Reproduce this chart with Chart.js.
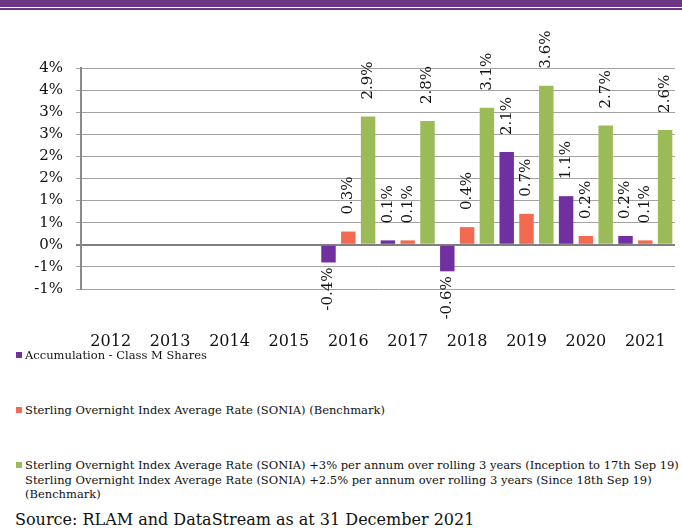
<!DOCTYPE html>
<html>
<head>
<meta charset="utf-8">
<script src="https://cdn.jsdelivr.net/npm/chart.js@4/dist/chart.umd.min.js"></script>
<style>
  body { margin: 0; background: #fff; }
  #page { position: relative; width: 682px; height: 530px; overflow: hidden; font-family: "DejaVu Serif", serif; color: #1a1a1a; }
  .band { position: absolute; left: 0; width: 682px; background: #6f3585; }
  #chart { position: absolute; left: 0; top: 0; }
  #legend { position: absolute; left: 15px; top: 0; width: 667px; font-family: "DejaVu Serif", serif; font-size: 11.5px; color: #111; }
  .item { position: absolute; left: 0; white-space: pre; line-height: 14.5px; padding-left: 10px; }
  .item i { position: absolute; left: 1px; top: 4px; width: 6px; height: 6px; }
  #source { position: absolute; left: 15px; top: 510px; font-size: 16px; white-space: nowrap; color: #111; }
</style>
</head>
<body>
<div id="page">
  <div class="band" style="top:0;height:7px"></div>
  <div class="band" style="top:8px;height:2px"></div>
  <canvas id="chart" width="682" height="360"></canvas>
  <div id="legend"></div>
  <div id="source">Source: RLAM and DataStream as at 31 December 2021</div>
</div>
<script>
const years = ['2012', '2013', '2014', '2015', '2016', '2017', '2018', '2019', '2020', '2021'];
const accumulation = [null, null, null, null, -0.4, 0.1, -0.6, 2.1, 1.1, 0.2];
const sonia = [null, null, null, null, 0.3, 0.1, 0.4, 0.7, 0.2, 0.1];
const soniaPlus = [null, null, null, null, 2.9, 2.8, 3.1, 3.6, 2.7, 2.6];
const seriesNames = [
    'Accumulation - Class M Shares',
    'Sterling Overnight Index Average Rate (SONIA) (Benchmark)',
    'Sterling Overnight Index Average Rate (SONIA) +3% per annum over rolling 3 years (Inception to 17th Sep 19)\nSterling Overnight Index Average Rate (SONIA) +2.5% per annum over rolling 3 years (Since 18th Sep 19)\n(Benchmark)'
];
const seriesColors = ['#7030a0', '#f26a4f', '#9bbb59'];
const legendTops = [348, 403, 458];

// rotated value labels above (or below) each bar
const barLabels = {
    id: 'barLabels',
    afterDatasetsDraw(chart) {
        const ctx = chart.ctx;
        ctx.save();
        ctx.font = '15px "DejaVu Serif"';
        ctx.fillStyle = '#111';
        ctx.textBaseline = 'middle';
        chart.data.datasets.forEach((ds, i) => {
            chart.getDatasetMeta(i).data.forEach((bar, j) => {
                const v = ds.data[j];
                if (v === null) return;
                ctx.save();
                ctx.translate(bar.x, v >= 0 ? bar.y - 17 : bar.y + 5);
                ctx.rotate(-Math.PI / 2);
                ctx.textAlign = v >= 0 ? 'left' : 'right';
                ctx.fillText(v.toFixed(1) + '%', 0, 0);
                ctx.restore();
            });
        });
        ctx.restore();
    }
};

const chart = new Chart(document.getElementById('chart'), {
    type: 'bar',
    data: {
        labels: years,
        datasets: [
            { label: seriesNames[0], data: accumulation, backgroundColor: seriesColors[0] },
            { label: seriesNames[1], data: sonia, backgroundColor: seriesColors[1] },
            { label: seriesNames[2], data: soniaPlus, backgroundColor: seriesColors[2] }
        ]
    },
    options: {
        responsive: false,
        animation: false,
        layout: { padding: { top: 68, right: 7, left: 0, bottom: 0 } },
        datasets: { bar: { categoryPercentage: 1.0, barPercentage: 0.73 } },
        plugins: { legend: { display: false }, tooltip: { enabled: false } },
        scales: {
            x: {
                // invisible tick marks push the year labels down below the plot
                grid: { display: true, drawOnChartArea: false, drawTicks: true, tickLength: 43, tickColor: 'rgba(0,0,0,0)' },
                border: { display: false },
                ticks: { color: '#111', font: { family: 'DejaVu Serif', size: 16 }, padding: 0, maxRotation: 0 },
                afterFit: (s) => { s.height = 71; }
            },
            y: {
                min: -1,
                max: 4,
                ticks: {
                    stepSize: 0.5,
                    color: '#111',
                    padding: 13,
                    font: { family: 'DejaVu Serif', size: 15 },
                    // whole-percent labels, halves rounded away from zero
                    callback: (v) => (Math.sign(v) * Math.round(Math.abs(v) + 1e-9)) + '%'
                },
                grid: {
                    tickLength: 5,
                    color: (c) => c.tick && Math.abs(c.tick.value) < 1e-9 ? '#808080' : '#a3a3a3',
                    lineWidth: (c) => c.tick && Math.abs(c.tick.value) < 1e-9 ? 2 : 1
                },
                border: { color: '#8a8a8a', width: 2 },
                afterFit: (s) => { s.width = 81; }
            }
        }
    },
    plugins: [barLabels]
});

// legend below the chart
const legend = document.getElementById('legend');
chart.data.datasets.forEach((ds, i) => {
    const item = document.createElement('div');
    item.className = 'item';
    item.style.top = legendTops[i] + 'px';
    item.innerHTML = '<i style="background:' + ds.backgroundColor + '"></i>';
    item.appendChild(document.createTextNode(ds.label));
    legend.appendChild(item);
});
</script>
</body>
</html>
